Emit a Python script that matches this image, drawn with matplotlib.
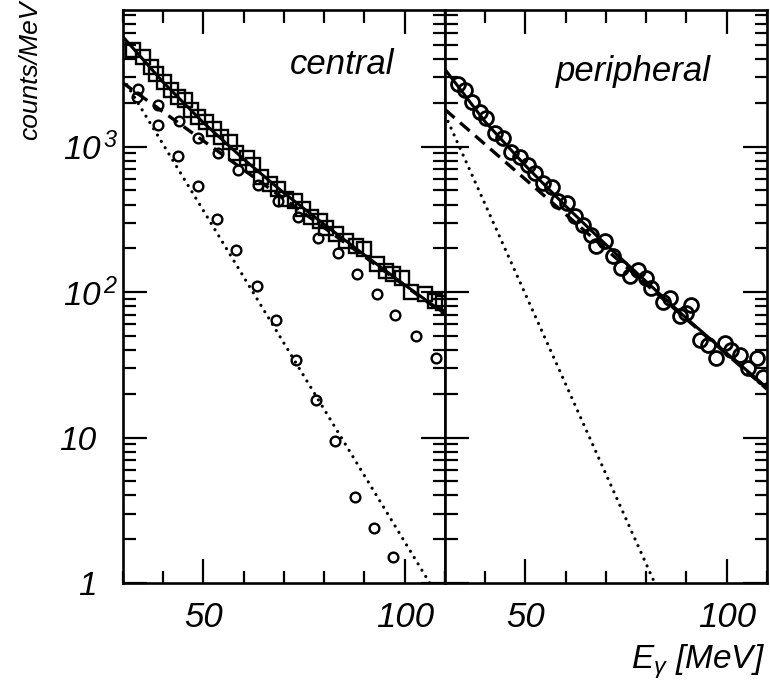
import matplotlib
matplotlib.use("Agg")
import matplotlib.pyplot as plt
from matplotlib import font_manager
from matplotlib.ticker import FixedLocator, MultipleLocator, LogLocator, NullFormatter

# pick a narrow Helvetica-like face if there is one
fam = "Liberation Sans"
try:
    font_manager.findfont("Liberation Sans Narrow", fallback_to_default=False)
    fam = "Liberation Sans Narrow"
except Exception:
    pass

plt.rcParams["font.family"] = [fam, "DejaVu Sans"]
plt.rcParams["mathtext.fontset"] = "custom"
plt.rcParams["mathtext.rm"] = fam + ":italic"
plt.rcParams["mathtext.it"] = fam + ":italic"
plt.rcParams["mathtext.sf"] = fam + ":italic"

# ---- central: squares (total), circles (two components)
sq_x = [32.5, 35.0, 37.0, 38.3, 40.3, 42.0, 43.6, 45.3, 47.0, 48.6, 50.7, 52.7, 54.4, 56.5,
        58.2, 60.7, 62.3, 64.4, 66.5, 68.5, 70.6, 72.7, 74.7, 76.8, 78.9, 80.5, 83.0, 85.5,
        88.0, 90.0, 93.0, 95.4, 97.0, 99.2, 101.6, 105.0, 107.4, 109.4]
sq_y = [4600, 4130, 3530, 3170, 2790, 2440, 2200, 2090, 1780, 1600, 1480, 1330, 1170, 1080,
        900, 830, 753, 623, 550, 515, 440, 420, 370, 330, 306, 275, 250, 224,
        207, 197, 155, 139, 133, 125, 100, 97, 87, 84]

up_x = [33.8, 38.8, 44.0, 48.7, 53.6, 58.6, 63.6, 68.5, 73.5, 78.5, 83.4, 88.1, 93.1, 97.7, 102.7, 107.7]
up_y = [2480, 1930, 1500, 1140, 900, 693, 546, 420, 326, 235, 186, 133, 97, 70, 50, 35.5]

low_x = [33.6, 38.8, 43.7, 48.7, 53.4, 58.2, 63.2, 68.1, 73.1, 77.9, 82.8, 87.6, 92.4, 97.1]
low_y = [2200, 1410, 867, 540, 320, 196, 110, 64, 34, 18, 9.5, 3.9, 2.37, 1.51]

# fitted curves
fit_x = [30, 40, 50, 60, 70, 80, 90, 100, 110]
c_solid = [5690, 2770, 1460, 820, 480, 292, 180, 112, 71]
c_dash_x = [30, 110]
c_dash_y = [2740, 70]
c_dot_x = [30, 106.2]
c_dot_y = [2950, 1.0]

# ---- peripheral
pr_x = [33.3, 35.0, 36.6, 38.7, 40.3, 42.4, 44.5, 46.5, 48.6, 50.7, 52.3, 54.4, 56.5, 58.1,
        60.2, 62.3, 64.3, 66.4, 67.6, 69.7, 71.8, 73.8, 75.9, 78.0, 80.0, 81.3, 84.2, 85.8,
        88.3, 90.0, 91.1, 93.4, 95.4, 97.4, 99.5, 101.1, 103.2, 105.3, 107.4, 109.0]
pr_y = [2715, 2440, 2030, 1740, 1563, 1233, 1140, 924, 854, 749, 657, 561, 532, 420,
        409, 332, 291, 248, 206, 223, 176, 147, 129, 143, 125, 107, 86, 91,
        68, 72, 82, 47, 43, 35, 45, 40, 37, 30, 35, 26]

p_solid = [3400, 1480, 740, 390, 212, 118, 66, 38, 22]
p_dash_x = [30, 110]
p_dash_y = [1800, 21.5]
p_dot_x = [30, 82.1]
p_dot_y = [1660, 1.0]

ytick_vals = [1, 10, 100, 1000]
ytick_labels = ["1", "10", r"$10^{\,2}$", r"$10^{\,3}$"]
xtick_vals = [50, 100]
xtick_labels = ["50", "100"]

fig = plt.figure(figsize=(7.7, 6.9), dpi=100)
ax1 = fig.add_axes([0.1597, 0.1551, 0.4182, 0.8304])
ax2 = fig.add_axes([0.5779, 0.1551, 0.4182, 0.8304])

for ax in (ax1, ax2):
    ax.set_yscale("log")
    ax.set_xlim(30, 110)
    ax.set_ylim(1, 8700)
    ax.xaxis.set_major_locator(FixedLocator(xtick_vals))
    ax.xaxis.set_minor_locator(MultipleLocator(10))
    ax.set_xticklabels(xtick_labels, fontsize=25, style="italic")
    ax.yaxis.set_major_locator(FixedLocator(ytick_vals))
    ax.yaxis.set_minor_locator(LogLocator(base=10, subs=range(2, 10)))
    ax.yaxis.set_minor_formatter(NullFormatter())
    ax.tick_params(which="both", direction="in", top=True, right=True, width=1.6, color="black")
    ax.tick_params(which="major", length=17)
    ax.tick_params(which="minor", length=9)
    ax.tick_params(axis="x", which="major", pad=13)
    for s in ax.spines.values():
        s.set_linewidth(1.9)

# left panel
ax1.plot(fit_x, c_solid, color="black", lw=2.2)
ax1.plot(c_dash_x, c_dash_y, color="black", lw=2.4, linestyle=(0, (3.4, 2.2)))
ax1.plot(c_dot_x, c_dot_y, color="black", lw=2.3, linestyle=(0, (0.01, 2.3)),
         dash_capstyle="round")
ax1.plot(sq_x, sq_y, "s", ms=9.5, mfc="none", mec="black", mew=1.7)
ax1.plot(up_x, up_y, "o", ms=7, mfc="none", mec="black", mew=1.7)
ax1.plot(low_x, low_y, "o", ms=7, mfc="none", mec="black", mew=1.7)
ax1.text(0.68, 0.905, "central", transform=ax1.transAxes, fontsize=25, style="italic",
         ha="center", va="center")

ax1.set_yticklabels(ytick_labels, fontsize=24, style="italic")
for t, p in zip(ax1.yaxis.get_major_ticks(), [19, 19, 3, 3]):
    t.set_pad(p)

# right panel
ax2.plot(fit_x, p_solid, color="black", lw=2.2)
ax2.plot(p_dash_x, p_dash_y, color="black", lw=2.4, linestyle=(0, (3.8, 2.2)))
ax2.plot(p_dot_x, p_dot_y, color="black", lw=2.3, linestyle=(0, (0.01, 2.3)),
         dash_capstyle="round")
ax2.plot(pr_x, pr_y, "o", ms=10, mfc="none", mec="black", mew=2.0)
ax2.text(0.584, 0.893, "peripheral", transform=ax2.transAxes, fontsize=25, style="italic",
         ha="center", va="center")
ax2.set_yticklabels([])

fig.text(30 / 770, 1 - 70 / 690, "counts/MeV", rotation=90, fontsize=19, style="italic",
         family="Liberation Sans", ha="center", va="center")
fig.text(765 / 770, 1 - 662 / 690, r"$E_{\gamma}$ [MeV]", fontsize=24, style="italic",
         ha="right", va="center")

fig.savefig("out.png", dpi=100)
